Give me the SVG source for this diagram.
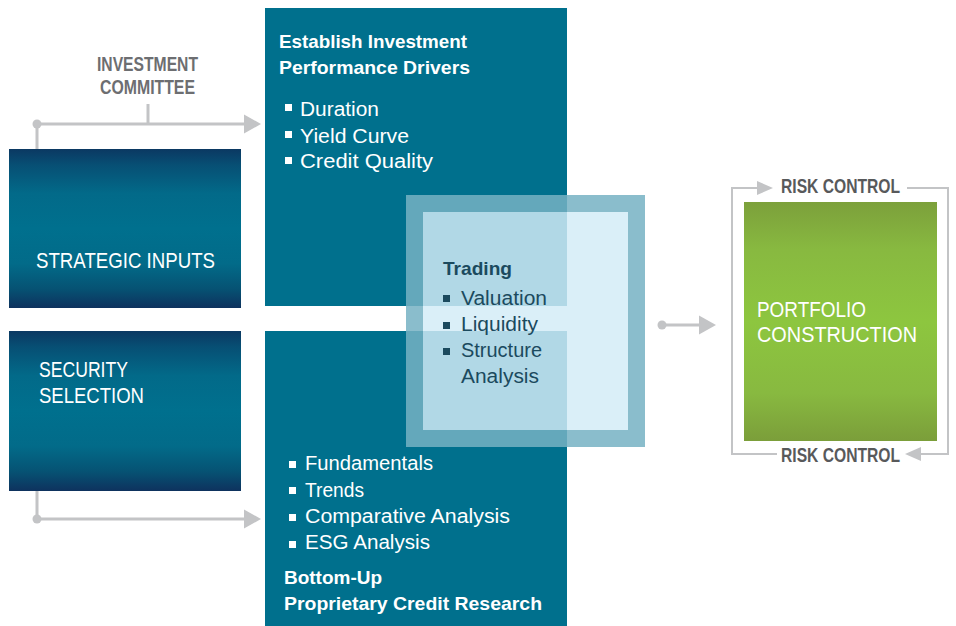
<svg xmlns="http://www.w3.org/2000/svg" width="956" height="626" viewBox="0 0 956 626">
<defs>
<linearGradient id="blueGrad" x1="0" y1="0" x2="0" y2="1">
<stop offset="0" stop-color="#0b3862"/>
<stop offset="0.1" stop-color="#074f74"/>
<stop offset="0.28" stop-color="#026a89"/>
<stop offset="0.5" stop-color="#00708e"/>
<stop offset="0.72" stop-color="#026b89"/>
<stop offset="0.88" stop-color="#065273"/>
<stop offset="1" stop-color="#0e325e"/>
</linearGradient>
<linearGradient id="greenGrad" x1="0" y1="0" x2="0" y2="1">
<stop offset="0" stop-color="#7ca03b"/>
<stop offset="0.2" stop-color="#88b940"/>
<stop offset="0.5" stop-color="#8dc63f"/>
<stop offset="0.8" stop-color="#88b940"/>
<stop offset="1" stop-color="#7b9e3a"/>
</linearGradient>
<marker id="arrow" markerUnits="userSpaceOnUse" markerWidth="17" markerHeight="20" refX="0" refY="9.5" orient="auto" overflow="visible">
<path d="M0,0 L17,9.5 L0,19 Z" fill="#c3c4c6"/>
</marker>
<marker id="arrowS" markerUnits="userSpaceOnUse" markerWidth="16" markerHeight="15" refX="0" refY="7" orient="auto" overflow="visible">
<path d="M0,0 L16,7 L0,14 Z" fill="#c3c4c6"/>
</marker>
</defs>
<style>
.conn{stroke:#c3c4c6;stroke-width:3;fill:none}
.frame{stroke:#c3c4c6;stroke-width:2;fill:none}
.dot{fill:#c3c4c6}
.gray{font-family:"Liberation Sans",Arial,sans-serif;font-weight:bold;font-size:20px}
.white{font-family:"Liberation Sans",Arial,sans-serif;fill:#ffffff}
.head{font-weight:bold;font-size:19px}
.item{font-size:20px}
.cap{font-size:22px}
.dark{font-family:"Liberation Sans",Arial,sans-serif;fill:#1b4a5e}
.wb{fill:#ffffff}
.db{fill:#1b4a5e}
.teal{fill:#00708d}
</style>

<g id="connectors">
<path class="conn" d="M37,149 V124 H244" marker-end="url(#arrow)"/>
<circle class="dot" cx="37" cy="124" r="4.5"/>
<line class="conn" x1="148" y1="104" x2="148" y2="124"/>
<path class="conn" d="M37,491 V519 H244" marker-end="url(#arrow)"/>
<circle class="dot" cx="37" cy="519" r="4.5"/>
<path class="conn" d="M662,325 H699" marker-end="url(#arrow)"/>
<circle class="dot" cx="662" cy="325" r="4.5"/>
<path class="frame" d="M777,454 H732 V188 H757" marker-end="url(#arrowS)"/>
<path class="frame" d="M907,188 H948 V454 H921" marker-end="url(#arrowS)"/>
</g>

<g id="investment-committee">
<text class="gray" fill="#6d6e71" x="97" y="71" textLength="101" lengthAdjust="spacingAndGlyphs">INVESTMENT</text>
<text class="gray" fill="#6d6e71" x="100" y="94" textLength="95" lengthAdjust="spacingAndGlyphs">COMMITTEE</text>
</g>

<g id="strategic-inputs">
<rect x="9" y="149" width="232" height="159" fill="url(#blueGrad)"/>
<text class="white cap" x="36" y="268" textLength="179" lengthAdjust="spacingAndGlyphs">STRATEGIC INPUTS</text>
</g>

<g id="security-selection">
<rect x="9" y="331" width="232" height="160" fill="url(#blueGrad)"/>
<text class="white cap" x="39" y="377" textLength="89" lengthAdjust="spacingAndGlyphs">SECURITY</text>
<text class="white cap" x="39" y="403" textLength="105" lengthAdjust="spacingAndGlyphs">SELECTION</text>
</g>

<g id="performance-drivers">
<rect class="teal" x="265" y="8" width="302" height="298"/>
<text class="white head" x="279" y="48" textLength="188" lengthAdjust="spacingAndGlyphs">Establish Investment</text>
<text class="white head" x="279" y="74" textLength="191" lengthAdjust="spacingAndGlyphs">Performance Drivers</text>
<rect class="wb" x="285" y="104" width="7" height="7"/>
<text class="white item" x="300" y="116" textLength="79" lengthAdjust="spacingAndGlyphs">Duration</text>
<rect class="wb" x="285" y="131" width="7" height="7"/>
<text class="white item" x="300" y="143" textLength="109" lengthAdjust="spacingAndGlyphs">Yield Curve</text>
<rect class="wb" x="285" y="157" width="7" height="7"/>
<text class="white item" x="300" y="168" textLength="133" lengthAdjust="spacingAndGlyphs">Credit Quality</text>
</g>

<g id="credit-research">
<rect class="teal" x="265" y="331" width="302" height="295"/>
<rect class="wb" x="289" y="461" width="7" height="7"/>
<text class="white item" x="305" y="470" textLength="128" lengthAdjust="spacingAndGlyphs">Fundamentals</text>
<rect class="wb" x="289" y="487" width="7" height="7"/>
<text class="white item" x="305" y="497" textLength="59" lengthAdjust="spacingAndGlyphs">Trends</text>
<rect class="wb" x="289" y="514" width="7" height="7"/>
<text class="white item" x="305" y="523" textLength="205" lengthAdjust="spacingAndGlyphs">Comparative Analysis</text>
<rect class="wb" x="289" y="541" width="7" height="7"/>
<text class="white item" x="305" y="549" textLength="125" lengthAdjust="spacingAndGlyphs">ESG Analysis</text>
<text class="white head" x="284" y="584" textLength="98" lengthAdjust="spacingAndGlyphs">Bottom-Up</text>
<text class="white head" x="284" y="610" textLength="258" lengthAdjust="spacingAndGlyphs">Proprietary Credit Research</text>
</g>

<g id="trading">
<path d="M406,195 H645 V447 H406 Z M423,212 V430 H628 V212 Z" fill="rgb(117,178,195)" fill-opacity="0.85" fill-rule="evenodd"/>
<rect x="423" y="212" width="205" height="218" fill="rgb(211,236,247)" fill-opacity="0.84"/>
<text class="dark head" x="443" y="275" textLength="69" lengthAdjust="spacingAndGlyphs">Trading</text>
<rect class="db" x="443" y="295" width="7" height="7"/>
<text class="dark item" x="461" y="305" textLength="86" lengthAdjust="spacingAndGlyphs">Valuation</text>
<rect class="db" x="443" y="322" width="7" height="7"/>
<text class="dark item" x="461" y="331" textLength="77" lengthAdjust="spacingAndGlyphs">Liquidity</text>
<rect class="db" x="443" y="348" width="7" height="7"/>
<text class="dark item" x="461" y="357" textLength="81" lengthAdjust="spacingAndGlyphs">Structure</text>
<text class="dark item" x="461" y="383" textLength="78" lengthAdjust="spacingAndGlyphs">Analysis</text>
</g>

<g id="portfolio-construction">
<rect x="744" y="202" width="193" height="239" fill="url(#greenGrad)"/>
<text class="white cap" x="757" y="317" textLength="109" lengthAdjust="spacingAndGlyphs">PORTFOLIO</text>
<text class="white cap" x="757" y="342" textLength="160" lengthAdjust="spacingAndGlyphs">CONSTRUCTION</text>
</g>

<g id="risk-control">
<text class="gray" fill="#58595b" x="781" y="193" textLength="119" lengthAdjust="spacingAndGlyphs">RISK CONTROL</text>
<text class="gray" fill="#58595b" x="781" y="462" textLength="119" lengthAdjust="spacingAndGlyphs">RISK CONTROL</text>
</g>
</svg>
